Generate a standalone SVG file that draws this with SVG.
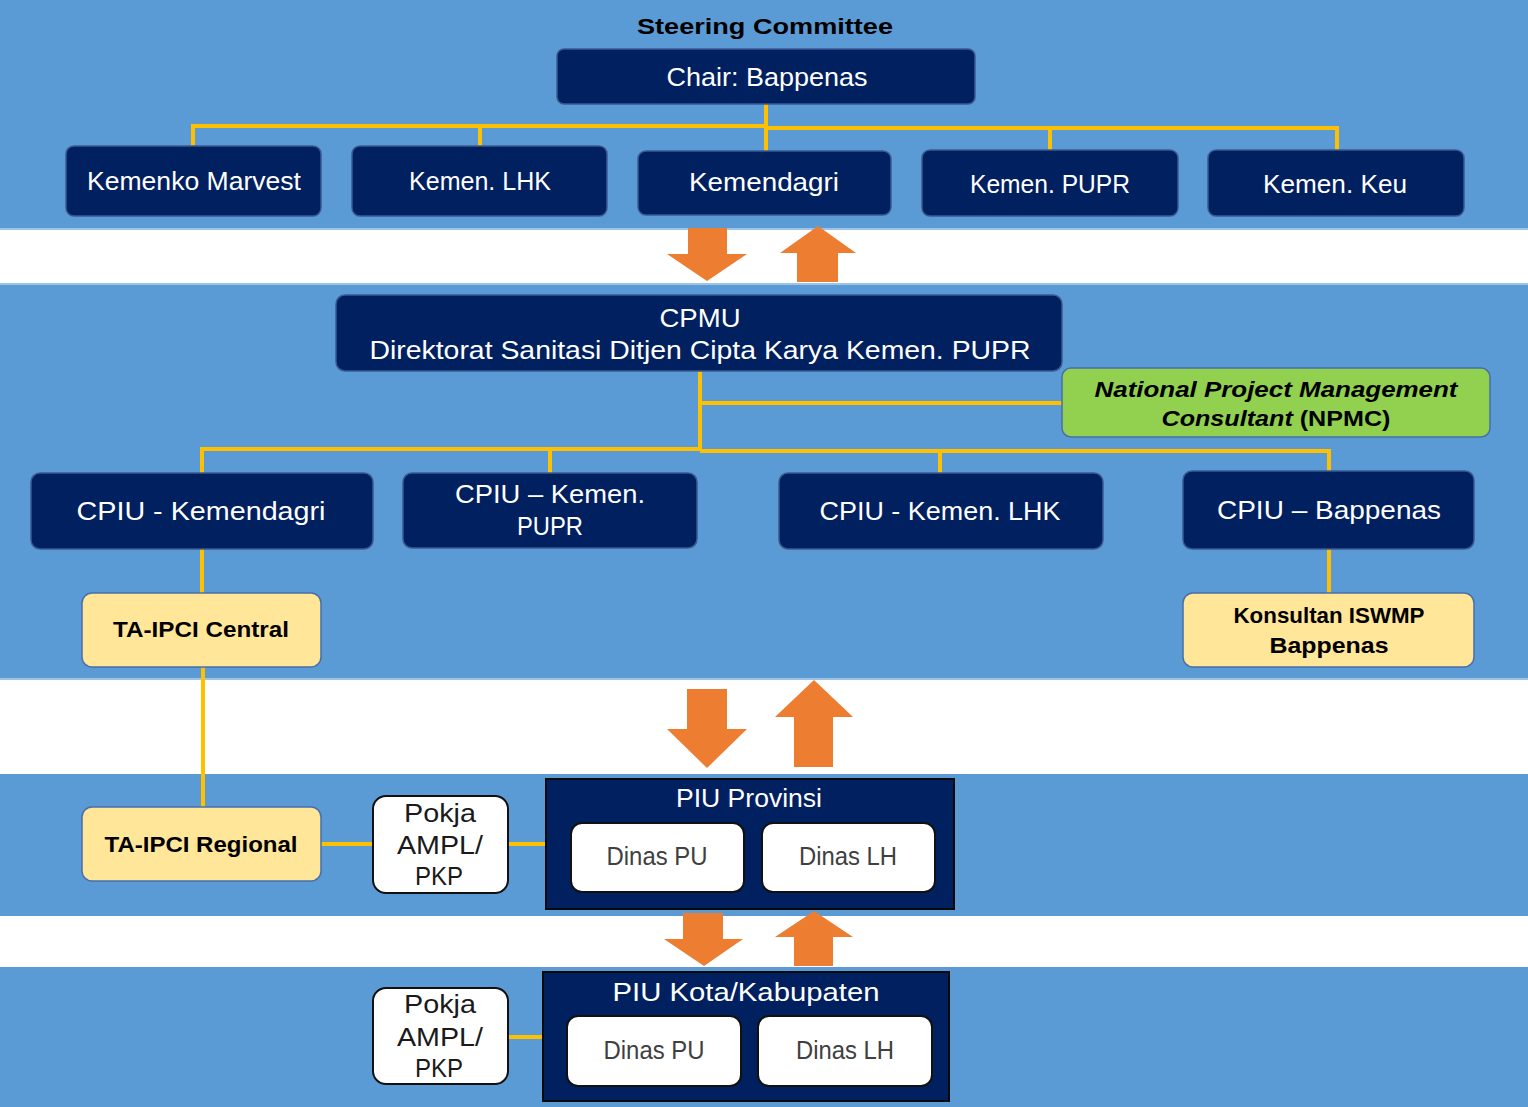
<svg xmlns="http://www.w3.org/2000/svg" width="1528" height="1107" viewBox="0 0 1528 1107">
<style>
.band{fill:#5B9BD5}
.bandedge{fill:#9DC3E6}
.navy{fill:#002060;stroke:#3A5A92;stroke-width:1.5}
.sq{fill:#002060;stroke:#0a0a0a;stroke-width:2}
.wbox{fill:#FFFFFF;stroke:#111111;stroke-width:2}
.ybox{fill:#FFE699;stroke:#4A6FA8;stroke-width:1.5}
.gbox{fill:#92D050;stroke:#4A6FA8;stroke-width:1.5}
.wt{font-family:"Liberation Sans",Arial,sans-serif;font-size:25px;fill:#FFFFFF;text-anchor:middle}
.bt{font-family:"Liberation Sans",Arial,sans-serif;font-size:22px;font-weight:bold;fill:#000000;text-anchor:middle}
.gt{font-family:"Liberation Sans",Arial,sans-serif;font-size:25px;fill:#404040;text-anchor:middle}
.kt{font-family:"Liberation Sans",Arial,sans-serif;font-size:26px;fill:#1a1a1a;text-anchor:middle}
.line{stroke:#FFC000;stroke-width:4;fill:none}
.arr{fill:#ED7D31}
</style>
<rect x="0" y="0" width="1528" height="1107" fill="#FFFFFF"/>
<g id="bands">
<rect class="band" x="0" y="0" width="1528" height="228"/>
<rect class="bandedge" x="0" y="228" width="1528" height="2"/>
<rect class="bandedge" x="0" y="283" width="1528" height="2"/>
<rect class="band" x="0" y="285" width="1528" height="393"/>
<rect class="bandedge" x="0" y="678" width="1528" height="2"/>
<rect class="band" x="0" y="774" width="1528" height="142"/>
<rect class="band" x="0" y="967" width="1528" height="140"/>
</g>
<g id="connectors">
<polyline class="line" points="766,104 766,151"/>
<polyline class="line" points="193,146 193,126 766,126"/>
<polyline class="line" points="480,126 480,146"/>
<polyline class="line" points="766,128 1337,128 1337,150"/>
<polyline class="line" points="1050,128 1050,150"/>
<polyline class="line" points="700,371 700,451"/>
<polyline class="line" points="700,403 1062,403"/>
<polyline class="line" points="202,474 202,449 700,449"/>
<polyline class="line" points="550,449 550,473"/>
<polyline class="line" points="700,451 1329,451 1329,471"/>
<polyline class="line" points="940,451 940,473"/>
<polyline class="line" points="202,549 202,593"/>
<polyline class="line" points="1329,549 1329,593"/>
<polyline class="line" points="203,667 203,807"/>
<polyline class="line" points="321,844 373,844"/>
<polyline class="line" points="508,844 546,844"/>
<polyline class="line" points="508,1037 543,1037"/>
<polygon class="arr" points="688,228 727,228 727,254 747,254 707,281 667,254 688,254"/>
<polygon class="arr" points="818,226 856,253 838,253 838,282 797,282 797,253 780,253"/>
<polygon class="arr" points="687,689 727,689 727,729 747,729 707,768 667,729 687,729"/>
<polygon class="arr" points="814,680 853,717 833,717 833,767 794,767 794,717 775,717"/>
<polygon class="arr" points="683,913 723,913 723,939 743,939 704,966 664,939 683,939"/>
<polygon class="arr" points="814,911 853,937 833,937 833,966 794,966 794,937 775,937"/>
</g>
<g id="title"><text class="bt" x="765" y="34" font-size="23" textLength="256" lengthAdjust="spacingAndGlyphs">Steering Committee</text></g>
<g id="chair"><rect class="navy" x="557" y="49" width="418" height="55" rx="7"/><text class="wt" x="767" y="86" textLength="201" lengthAdjust="spacingAndGlyphs">Chair: Bappenas</text></g>
<g id="kemenko"><rect class="navy" x="66" y="146" width="255" height="70" rx="8"/><text class="wt" x="194" y="190" textLength="214" lengthAdjust="spacingAndGlyphs">Kemenko Marvest</text></g>
<g id="kemenlhk"><rect class="navy" x="352" y="146" width="255" height="70" rx="8"/><text class="wt" x="480" y="190" textLength="142" lengthAdjust="spacingAndGlyphs">Kemen. LHK</text></g>
<g id="kemendagri"><rect class="navy" x="638" y="151" width="253" height="64" rx="8"/><text class="wt" x="764" y="191" textLength="150" lengthAdjust="spacingAndGlyphs">Kemendagri</text></g>
<g id="kemenpupr"><rect class="navy" x="922" y="150" width="256" height="66" rx="8"/><text class="wt" x="1050" y="193" textLength="160" lengthAdjust="spacingAndGlyphs">Kemen. PUPR</text></g>
<g id="kemenkeu"><rect class="navy" x="1208" y="150" width="256" height="66" rx="8"/><text class="wt" x="1335" y="193" textLength="144" lengthAdjust="spacingAndGlyphs">Kemen. Keu</text></g>
<g id="cpmu"><rect class="navy" x="336" y="295" width="726" height="76" rx="9"/><text class="wt" x="700" y="327" textLength="81" lengthAdjust="spacingAndGlyphs">CPMU</text><text class="wt" x="700" y="359" textLength="661" lengthAdjust="spacingAndGlyphs">Direktorat Sanitasi Ditjen Cipta Karya Kemen. PUPR</text></g>
<g id="npmc"><rect class="gbox" x="1062" y="368" width="428" height="69" rx="9"/><text class="bt" x="1276" y="397" font-style="italic" textLength="363" lengthAdjust="spacingAndGlyphs">National Project Management</text><text class="bt" x="1276" y="426" textLength="229" lengthAdjust="spacingAndGlyphs"><tspan font-style="italic">Consultant</tspan> (NPMC)</text></g>
<g id="cpiu-kemendagri"><rect class="navy" x="31" y="473" width="342" height="76" rx="9"/><text class="wt" x="201" y="520" textLength="249" lengthAdjust="spacingAndGlyphs">CPIU - Kemendagri</text></g>
<g id="cpiu-pupr"><rect class="navy" x="403" y="473" width="294" height="75" rx="9"/><text class="wt" x="550" y="503" textLength="190" lengthAdjust="spacingAndGlyphs">CPIU – Kemen.</text><text class="wt" x="550" y="535" textLength="66" lengthAdjust="spacingAndGlyphs">PUPR</text></g>
<g id="cpiu-lhk"><rect class="navy" x="779" y="473" width="324" height="76" rx="9"/><text class="wt" x="940" y="520" textLength="241" lengthAdjust="spacingAndGlyphs">CPIU - Kemen. LHK</text></g>
<g id="cpiu-bappenas"><rect class="navy" x="1183" y="471" width="291" height="78" rx="9"/><text class="wt" x="1329" y="519" textLength="224" lengthAdjust="spacingAndGlyphs">CPIU – Bappenas</text></g>
<g id="ta-central"><rect class="ybox" x="82" y="593" width="239" height="74" rx="10"/><text class="bt" x="201" y="637" textLength="176" lengthAdjust="spacingAndGlyphs">TA-IPCI Central</text></g>
<g id="konsultan"><rect class="ybox" x="1183" y="593" width="291" height="74" rx="10"/><text class="bt" x="1329" y="623" textLength="191" lengthAdjust="spacingAndGlyphs">Konsultan ISWMP</text><text class="bt" x="1329" y="653" textLength="119" lengthAdjust="spacingAndGlyphs">Bappenas</text></g>
<g id="ta-regional"><rect class="ybox" x="82" y="807" width="239" height="74" rx="10"/><text class="bt" x="201" y="852" textLength="193" lengthAdjust="spacingAndGlyphs">TA-IPCI Regional</text></g>
<g id="pokja1"><rect class="wbox" x="373" y="796" width="135" height="97" rx="13"/><text class="kt" x="440" y="822" textLength="72" lengthAdjust="spacingAndGlyphs">Pokja</text><text class="kt" x="440" y="854" textLength="86" lengthAdjust="spacingAndGlyphs">AMPL/</text><text class="kt" x="439" y="885" textLength="48" lengthAdjust="spacingAndGlyphs">PKP</text></g>
<g id="piu-provinsi"><rect class="sq" x="546" y="779" width="408" height="130"/><text class="wt" x="749" y="807" textLength="146" lengthAdjust="spacingAndGlyphs">PIU Provinsi</text></g>
<g id="prov-dinas-pu"><rect class="wbox" x="571" y="823" width="173" height="69" rx="11"/><text class="gt" x="657" y="865" textLength="101" lengthAdjust="spacingAndGlyphs">Dinas PU</text></g>
<g id="prov-dinas-lh"><rect class="wbox" x="762" y="823" width="173" height="69" rx="11"/><text class="gt" x="848" y="865" textLength="98" lengthAdjust="spacingAndGlyphs">Dinas LH</text></g>
<g id="pokja2"><rect class="wbox" x="373" y="988" width="135" height="96" rx="13"/><text class="kt" x="440" y="1013" textLength="72" lengthAdjust="spacingAndGlyphs">Pokja</text><text class="kt" x="440" y="1046" textLength="86" lengthAdjust="spacingAndGlyphs">AMPL/</text><text class="kt" x="439" y="1077" textLength="48" lengthAdjust="spacingAndGlyphs">PKP</text></g>
<g id="piu-kota"><rect class="sq" x="543" y="972" width="406" height="129"/><text class="wt" x="746" y="1001" textLength="267" lengthAdjust="spacingAndGlyphs">PIU Kota/Kabupaten</text></g>
<g id="kota-dinas-pu"><rect class="wbox" x="567" y="1016" width="174" height="70" rx="11"/><text class="gt" x="654" y="1059" textLength="101" lengthAdjust="spacingAndGlyphs">Dinas PU</text></g>
<g id="kota-dinas-lh"><rect class="wbox" x="758" y="1016" width="174" height="70" rx="11"/><text class="gt" x="845" y="1059" textLength="98" lengthAdjust="spacingAndGlyphs">Dinas LH</text></g>
</svg>
